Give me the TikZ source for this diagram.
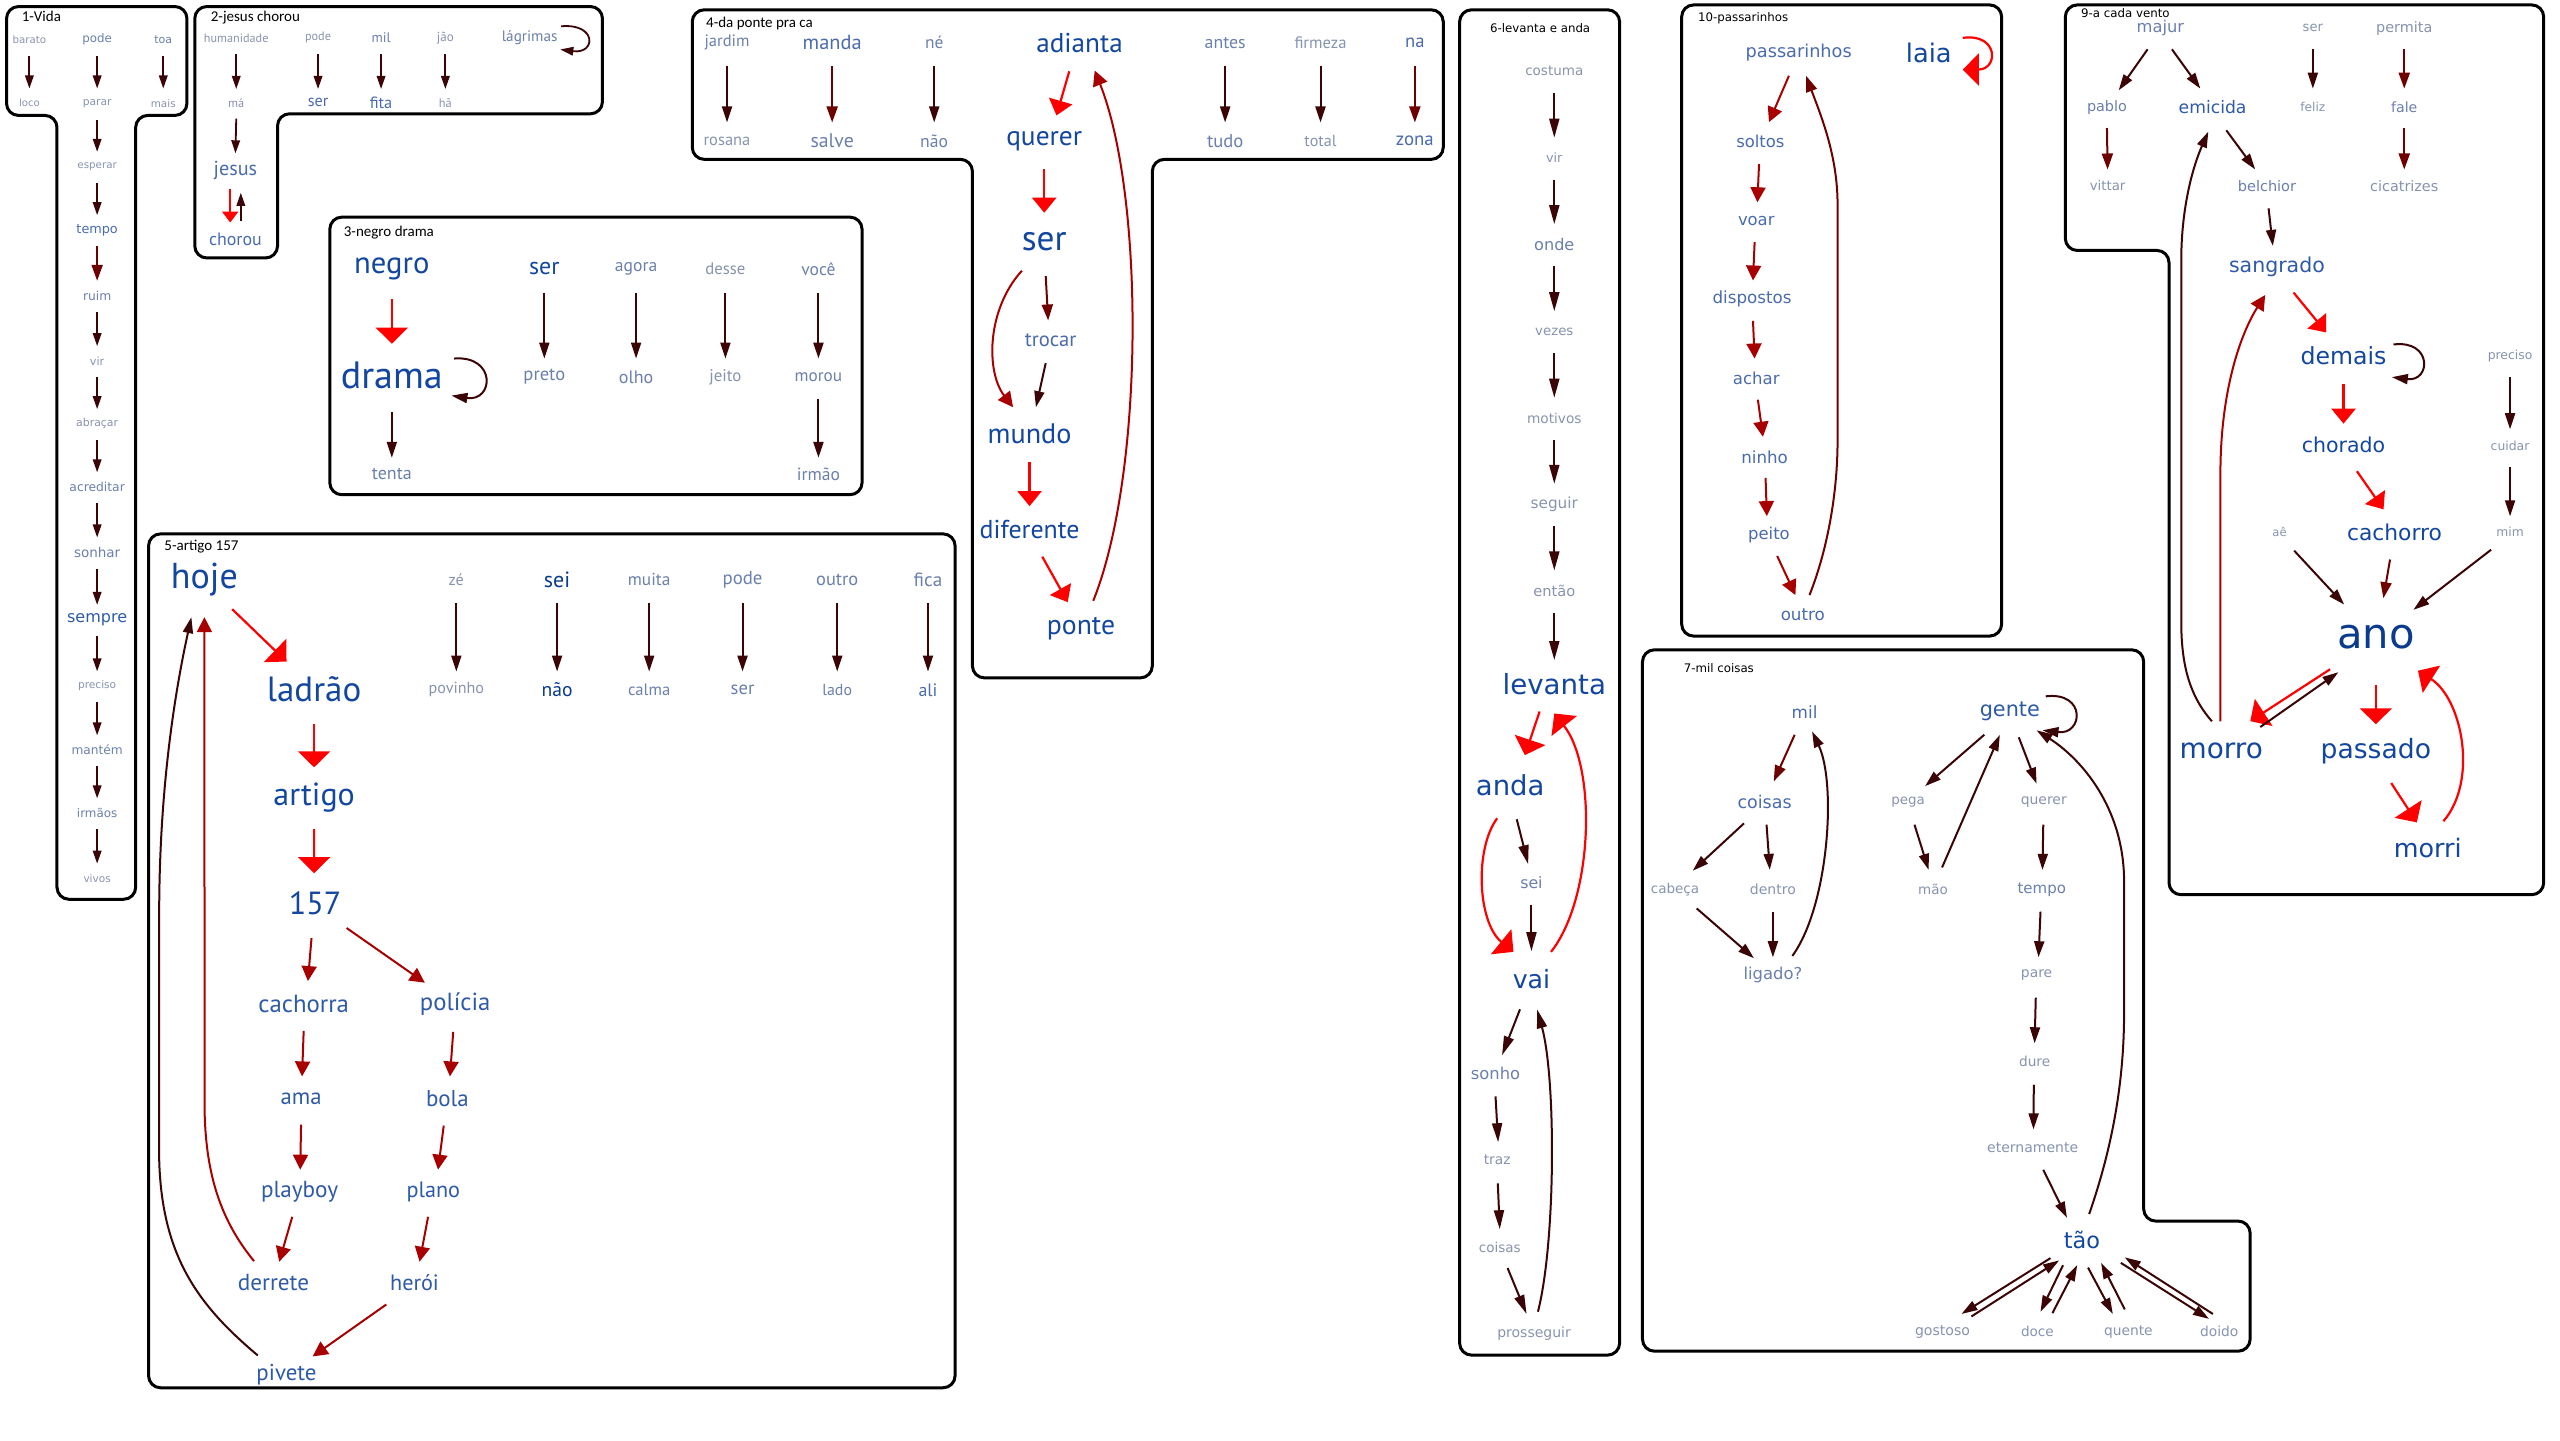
\documentclass[tikz,border=0pt]{standalone}
\usepackage{fontspec}
\setmainfont{DejaVu Sans}
\newfontfamily\vfont{DejaVu Sans}
\newfontfamily\tfont{PT Sans}
\newfontfamily\calfont{Carlito}
\usetikzlibrary{arrows.meta}
\definecolor{c1}{HTML}{8794B0}
\definecolor{c2}{HTML}{6B80AC}
\definecolor{c3}{HTML}{4A6BAE}
\definecolor{c4}{HTML}{2E5AA8}
\definecolor{c5}{HTML}{13479F}
\definecolor{c6}{HTML}{0B3B8E}
\definecolor{dkc}{HTML}{3B0505}
\definecolor{mdc}{HTML}{6E0000}
\definecolor{drc}{HTML}{A80000}
\definecolor{rdc}{HTML}{FF0000}
\tikzset{
 wv/.style n args={2}{font=\vfont\fontsize{#1}{#1}\selectfont,text=#2,inner sep=0pt},
 wt/.style n args={2}{font=\tfont\fontsize{#1}{#1}\selectfont,text=#2,inner sep=0pt},
 ttl/.style={font=\calfont\fontsize{15}{15}\selectfont,anchor=west,inner sep=0pt,text=black},
 ttlv/.style={font=\vfont\fontsize{11.8}{11.8}\selectfont,anchor=west,inner sep=0pt,text=black},
 outl/.style={draw=black,line width=3pt,rounded corners=12pt},
 dk/.style={draw=dkc,line width=2pt,-{Triangle[length=16pt,width=10pt]}},
 dkS/.style={draw=dkc,line width=1.8pt,-{Triangle[length=13pt,width=8.5pt]}},
 dkL/.style={draw=dkc,line width=2pt,-{Triangle[length=19pt,width=10pt]}},
 md/.style={draw=mdc,line width=2pt,-{Triangle[length=16pt,width=11pt]}},
 dr/.style={draw=drc,line width=2pt,-{Triangle[length=15pt,width=15pt]}},
 rd/.style={draw=rdc,line width=2.2pt,-{Triangle[length=16pt,width=32pt]}},
 rdm/.style={draw=rdc,line width=2.2pt,-{Triangle[length=15pt,width=24pt]}},
 rds/.style={draw=rdc,line width=2pt,-{Triangle[length=11pt,width=16pt]}},
}
\newcommand\myconn[5][dk]{\draw[#1] ([shift={(#3)}]#2.center) -- ([shift={(#5)}]#4.center);}
\begin{document}
\begin{tikzpicture}[x=1.6327pt,y=-1.6327pt]
\useasboundingbox (0,0) rectangle (1568,882);
\fill[white] (0,0) rectangle (1568,882);

% ---------- outlines ----------
\draw[outl] (4,4) -- (114.5,4) -- (114.5,70.7) -- (83.1,70.7) -- (83.1,550.8) -- (34.9,550.8) -- (34.9,70.7) -- (4,70.7) -- cycle;
\draw[outl] (119.3,4) -- (369,4) -- (369,69.7) -- (170,69.7) -- (170,158) -- (119.3,158) -- cycle;
\draw[outl] (202,133) rectangle (528,303);
\draw[outl] (424,6) -- (884,6) -- (884,97.6) -- (705.8,97.6) -- (705.8,415.2) -- (595.6,415.2) -- (595.6,97.6) -- (424,97.6) -- cycle;
\draw[outl] (91,327) rectangle (585,850);
\draw[outl] (894,6) rectangle (992,830);
\draw[outl] (1030,3) rectangle (1226,389.6);
\draw[outl] (1265,3) -- (1558,3) -- (1558,548) -- (1328.5,548) -- (1328.5,153.4) -- (1265,153.4) -- cycle;
\draw[outl] (1006,398) -- (1313,398) -- (1313,747.9) -- (1378.2,747.9) -- (1378.2,827.6) -- (1006,827.6) -- cycle;

% ---------- box 1 ----------
\node[ttl] at (13.2,10.1) {1-Vida};
\node[wv={10.2}{c1}] (a1barato) at (18,24.2) {barato};
\node[wv={11.8}{c2}] (a1pode) at (59.5,24.2) {pode};
\node[wv={11}{c2}] (a1toa) at (100,24.2) {toa};
\node[wv={10}{c1}] (a1loco) at (18,63.2) {loco};
\node[wv={10.7}{c1}] (a1parar) at (59.5,63.2) {parar};
\node[wv={10.4}{c1}] (a1mais) at (100,63.2) {mais};
\node[wv={10.3}{c1}] (a1esperar) at (59.5,102) {esperar};
\node[wv={12.8}{c3}] (a1tempo) at (59.5,140.8) {tempo};
\node[wv={12.3}{c2}] (a1ruim) at (59.5,181) {ruim};
\node[wv={11.2}{c1}] (a1vir) at (59.5,221) {vir};
\node[wv={10.9}{c1}] (a1abracar) at (59.5,259.6) {abraçar};
\node[wv={12.3}{c2}] (a1acreditar) at (59.5,298.3) {acreditar};
\node[wv={13.5}{c2}] (a1sonhar) at (59.5,338.2) {sonhar};
\node[wv={16}{c4}] (a1sempre) at (59.5,379.5) {sempre};
\node[wv={10.6}{c1}] (a1preciso) at (59.5,420.2) {preciso};
\node[wv={12.2}{c2}] (a1mantem) at (59.5,459.4) {mantém};
\node[wv={11.9}{c2}] (a1irmaos) at (59.5,498) {irmãos};
\node[wv={10.5}{c1}] (a1vivos) at (59.5,538) {vivos};
\myconn[dkS]{a1barato}{0,10}{a1loco}{0,-9}
\myconn[dkS]{a1pode}{0,10}{a1parar}{0,-9}
\myconn[dkS]{a1toa}{0,10}{a1mais}{0,-9}
\myconn[dkS]{a1parar}{0,10}{a1esperar}{0,-9}
\myconn[dkS]{a1esperar}{0,10}{a1tempo}{0,-9}
\myconn[md]{a1tempo}{0,10}{a1ruim}{0,-9}
\myconn[dkS]{a1ruim}{0,10}{a1vir}{0,-9}
\myconn[dkS]{a1vir}{0,10}{a1abracar}{0,-9}
\myconn[dkS]{a1abracar}{0,10}{a1acreditar}{0,-9}
\myconn[dkS]{a1acreditar}{0,10}{a1sonhar}{0,-9}
\myconn[dkS]{a1sonhar}{0,10}{a1sempre}{0,-9}
\myconn[dkS]{a1sempre}{0,10}{a1preciso}{0,-9}
\myconn[dkS]{a1preciso}{0,10}{a1mantem}{0,-9}
\myconn[dkS]{a1mantem}{0,10}{a1irmaos}{0,-9}
\myconn[dkS]{a1irmaos}{0,10}{a1vivos}{0,-9}

% ---------- box 2 ----------
\node[ttl] at (129,10.5) {2-jesus chorou};
\node[wt={12.2}{c1}] (b2hum) at (144.7,23.2) {humanidade};
\node[wt={12.2}{c1}] (b2pode) at (194.8,23.2) {pode};
\node[wt={13.9}{c2}] (b2mil) at (233.4,23.2) {mil};
\node[wt={13.1}{c1}] (b2jao) at (272.8,23.2) {jão};
\node[wt={15.2}{c2}] (b2lag) at (324.4,23.2) {lágrimas};
\node[wt={12.3}{c1}] (b2ma) at (144.7,63) {má};
\node[wt={16.2}{c3}] (b2ser) at (194.8,63) {ser};
\node[wt={16.3}{c3}] (b2fita) at (233.4,63) {fita};
\node[wt={12.4}{c1}] (b2ha) at (272.8,63) {hã};
\node[wt={20.2}{c3}] (b2jesus) at (144.2,104.4) {jesus};
\node[wt={17.9}{c3}] (b2chorou) at (144.2,146.8) {chorou};
\myconn[dkS]{b2hum}{0,10.1}{b2ma}{0,-8.5}
\myconn[dkS]{b2pode}{0,10.1}{b2ser}{0,-8.5}
\myconn[dkS]{b2mil}{0,10.1}{b2fita}{0,-8.5}
\myconn[dkS]{b2jao}{0,10.1}{b2ha}{0,-8.5}
\myconn[dkS]{b2ma}{0,9.7}{b2jesus}{0,-10.5}
\myconn[rds]{b2jesus}{-3.2,11.6}{b2chorou}{-3.2,-10.5}
\myconn[dkS]{b2chorou}{3.3,-11.5}{b2jesus}{3.3,13.7}
\draw[dkS] ([shift={(19.3,-7.1)}]b2lag.center) .. controls +(22,-2) and +(22,3) .. ([shift={(18.8,7.1)}]b2lag.center);

% ---------- box 3 ----------
\node[ttl] at (210.5,142.3) {3-negro drama};
\node[wt={30.6}{c5}] (c3negro) at (240,164.6) {negro};
\node[wt={38}{c5}] (c3drama) at (240,229.8) {drama};
\node[wt={18}{c2}] (c3tenta) at (240,290.5) {tenta};
\node[wt={23.9}{c5}] (c3ser) at (333.4,164.6) {ser};
\node[wt={17.6}{c2}] (c3agora) at (389.6,164.6) {agora};
\node[wt={16.7}{c1}] (c3desse) at (444.3,164.6) {desse};
\node[wt={17.5}{c2}] (c3voce) at (501.3,164.6) {você};
\node[wt={18.5}{c2}] (c3preto) at (333.4,230.8) {preto};
\node[wt={18}{c2}] (c3olho) at (389.6,230.8) {olho};
\node[wt={16.9}{c1}] (c3jeito) at (444.3,230.8) {jeito};
\node[wt={17.2}{c2}] (c3morou) at (501.3,230.8) {morou};
\node[wt={17.6}{c2}] (c3irmao) at (501.3,290.5) {irmão};
\myconn[rd]{c3negro}{0,18.6}{c3drama}{0,-19.3}
\myconn{c3drama}{0,22.6}{c3tenta}{0,-10.1}
\myconn{c3ser}{0,14.6}{c3preto}{0,-11.2}
\myconn{c3agora}{0,14.6}{c3olho}{0,-11.2}
\myconn{c3desse}{0,14.6}{c3jeito}{0,-11.2}
\myconn{c3voce}{0,14.6}{c3morou}{0,-11.2}
\myconn{c3morou}{0,13.5}{c3irmao}{0,-10.1}
\draw[dk] ([shift={(38.2,-10.2)}]c3drama.center) .. controls +(26,-2) and +(26,4) .. ([shift={(36.5,12.5)}]c3drama.center);

% ---------- box 4 ----------
\node[ttl] at (432.4,14.1) {4-da ponte pra ca};
\node[wt={16.5}{c2}] (d4jardim) at (445.3,26.2) {jardim};
\node[wt={20.4}{c3}] (d4manda) at (509.7,26.2) {manda};
\node[wt={17.4}{c2}] (d4ne) at (572.2,26.2) {né};
\node[wt={27.2}{c5}] (d4adianta) at (661.2,26.2) {adianta};
\node[wt={17.8}{c2}] (d4antes) at (750.4,26.2) {antes};
\node[wt={16.6}{c1}] (d4firmeza) at (808.8,26.2) {firmeza};
\node[wt={18.6}{c3}] (d4na) at (866.6,26.2) {na};
\node[wt={16.5}{c1}] (d4rosana) at (445.3,86.3) {rosana};
\node[wt={19.8}{c2}] (d4salve) at (509.7,86.3) {salve};
\node[wt={17.7}{c2}] (d4nao) at (572.2,86.3) {não};
\node[wt={27.4}{c5}] (d4querer) at (639.6,86.3) {querer};
\node[wt={18.6}{c2}] (d4tudo) at (750.4,86.3) {tudo};
\node[wt={16.1}{c1}] (d4total) at (808.8,86.3) {total};
\node[wt={18.8}{c3}] (d4zona) at (866.6,86.3) {zona};
\node[wt={35.3}{c5}] (d4ser) at (639.6,148.3) {ser};
\node[wt={20.6}{c3}] (d4trocar) at (643.5,208.2) {trocar};
\node[wt={28.2}{c5}] (d4mundo) at (630.6,265.6) {mundo};
\node[wt={25.9}{c5}] (d4diferente) at (630.6,324.3) {diferente};
\node[wt={27.7}{c5}] (d4ponte) at (662.1,385) {ponte};
\myconn{d4jardim}{0,14.3}{d4rosana}{0,-11.3}
\myconn[md]{d4manda}{0,14.3}{d4salve}{0,-11.3}
\myconn{d4ne}{0,14.3}{d4nao}{0,-11.3}
\myconn{d4antes}{0,14.3}{d4tudo}{0,-11.3}
\myconn{d4firmeza}{0,14.3}{d4total}{0,-11.3}
\myconn[md]{d4na}{0,14.3}{d4zona}{0,-11.3}
\myconn[rdm]{d4adianta}{-6.3,17.5}{d4querer}{7.5,-15.6}
\myconn[rdm]{d4querer}{0,17.5}{d4ser}{0,-18}
\myconn[md]{d4ser}{0.9,20.8}{d4trocar}{-1.5,-11.9}
\myconn{d4trocar}{-3,14.2}{d4mundo}{3.9,-16.2}
\myconn[rdm]{d4mundo}{0,17.4}{d4diferente}{0,-14.3}
\myconn[rdm]{d4diferente}{7.8,16.7}{d4ponte}{-8.1,-16.2}
\draw[dr] ([shift={(-13.7,17.5)}]d4ser.center) .. controls (604,190) and (604,228) .. ([shift={(-10.1,-16.2)}]d4mundo.center);
\draw[dr] ([shift={(7.5,-17)}]d4ponte.center) .. controls (701,290) and (701,120) .. ([shift={(9.3,17)}]d4adianta.center);

% ---------- box 5 ----------
\node[ttl] at (100.6,334.8) {5-artigo 157};
\node[wt={36}{c5}] (e5hoje) at (125.2,355.2) {hoje};
\node[wt={35}{c5}] (e5ladrao) at (192.4,422.1) {ladrão};
\node[wt={32}{c5}] (e5artigo) at (192.4,488.8) {artigo};
\node[wt={32}{c5}] (e5n) at (193,553) {157};
\node[wt={24.8}{c4}] (e5cachorra) at (186,615) {cachorra};
\node[wt={24.7}{c4}] (e5policia) at (278.8,615) {polícia};
\node[wt={22.7}{c4}] (e5ama) at (184.4,673) {ama};
\node[wt={22.9}{c4}] (e5bola) at (274,673) {bola};
\node[wt={23.2}{c4}] (e5playboy) at (183.5,729.8) {playboy};
\node[wt={22.2}{c4}] (e5plano) at (265.4,729.8) {plano};
\node[wt={23.2}{c4}] (e5derrete) at (167.5,785.7) {derrete};
\node[wt={22.2}{c4}] (e5heroi) at (253.9,785.7) {herói};
\node[wt={22.9}{c4}] (e5pivete) at (175.5,842) {pivete};
\node[wt={16.2}{c1}] (e5ze) at (279.5,355.2) {zé};
\node[wt={22}{c6}] (e5sei) at (341.2,355.2) {sei};
\node[wt={17.3}{c2}] (e5muita) at (397.6,355.2) {muita};
\node[wt={18.8}{c2}] (e5pode) at (454.8,355.2) {pode};
\node[wt={18.4}{c2}] (e5outro) at (512.8,355.2) {outro};
\node[wt={19.2}{c2}] (e5fica) at (568.4,355.2) {fica};
\node[wt={16.1}{c1}] (e5povinho) at (279.5,422.5) {povinho};
\node[wt={19.6}{c6}] (e5nao) at (341.2,422.5) {não};
\node[wt={16.6}{c2}] (e5calma) at (397.6,422.5) {calma};
\node[wt={18.6}{c2}] (e5ser) at (454.8,422.5) {ser};
\node[wt={15.9}{c2}] (e5lado) at (512.8,422.5) {lado};
\node[wt={17.9}{c3}] (e5ali) at (568.4,422.5) {ali};
\myconn[rd]{e5hoje}{17,17.9}{e5ladrao}{-16.9,-16.9}
\myconn[rd]{e5ladrao}{0,21.4}{e5artigo}{0,-18.8}
\myconn[rd]{e5artigo}{0,19}{e5n}{-0.6,-18.2}
\myconn[dr]{e5n}{-2.2,21.6}{e5cachorra}{2.6,-14.1}
\myconn[dr]{e5n}{19.3,15.4}{e5policia}{-18.6,-13.1}
\myconn[dr]{e5cachorra}{0,16.4}{e5ama}{0.6,-13.7}
\myconn[dr]{e5policia}{-1.2,17}{e5bola}{1.6,-13.7}
\myconn[dr]{e5ama}{0,15.8}{e5playboy}{0.4,-13.4}
\myconn[dr]{e5bola}{-2.2,16.4}{e5plano}{2.9,-13.4}
\myconn[dr]{e5playboy}{-4.5,15.5}{e5derrete}{3.5,-12.9}
\myconn[dr]{e5plano}{-3.2,15.5}{e5heroi}{3.1,-12.9}
\myconn[dr]{e5heroi}{-17.3,13.3}{e5pivete}{16,-11.2}
\myconn{e5ze}{0,14.2}{e5povinho}{0,-11.2}
\myconn{e5sei}{0,14.2}{e5nao}{0,-11.2}
\myconn{e5muita}{0,14.2}{e5calma}{0,-11.2}
\myconn{e5pode}{0,14.2}{e5ser}{0,-11.2}
\myconn{e5outro}{0,14.2}{e5lado}{0,-11.2}
\myconn{e5fica}{0,14.2}{e5ali}{0,-11.2}
\draw[dr] ([shift={(-11.9,-13.3)}]e5derrete.center) .. controls (133,745) and (126,715) .. (125.3,680) -- ([shift={(0,22.8)}]e5hoje.center);
\draw[dk] ([shift={(-17.6,-11.8)}]e5pivete.center) .. controls (122,800) and (99,770) .. (97.5,710) -- (97.5,560) .. controls (97.5,480) and (108,420) .. ([shift={(-8,22.8)}]e5hoje.center);

% ---------- box 6 ----------
\node[ttlv] at (912.6,17) {6-levanta e anda};
\node[wv={13.5}{c1}] (f6costuma) at (952,43.6) {costuma};
\node[wv={12.8}{c1}] (f6vir) at (952,96.7) {vir};
\node[wv={16.1}{c2}] (f6onde) at (952,149.7) {onde};
\node[wv={13.3}{c1}] (f6vezes) at (952,203) {vezes};
\node[wv={13.7}{c1}] (f6motivos) at (952,256) {motivos};
\node[wv={15.3}{c1}] (f6seguir) at (952,308.7) {seguir};
\node[wv={14.6}{c1}] (f6entao) at (952,361.8) {então};
\node[wv={27.7}{c5}] (f6levanta) at (952,419) {levanta};
\node[wv={27.5}{c5}] (f6anda) at (925,480.7) {anda};
\node[wv={15.8}{c2}] (f6sei) at (938,540.5) {sei};
\node[wv={25.2}{c5}] (f6vai) at (938,599.4) {vai};
\node[wv={16.3}{c2}] (f6sonho) at (916,657.5) {sonho};
\node[wv={13.8}{c1}] (f6traz) at (917,710.2) {traz};
\node[wv={13.5}{c1}] (f6coisas) at (918.6,764.1) {coisas};
\node[wv={14}{c1}] (f6prosseguir) at (939.6,816.6) {prosseguir};
\myconn[dkL]{f6costuma}{0,13.5}{f6vir}{0,-12.4}
\myconn[dkL]{f6vir}{0,13.5}{f6onde}{0,-12.4}
\myconn[dkL]{f6onde}{0,13.5}{f6vezes}{0,-12.4}
\myconn[dkL]{f6vezes}{0,13.5}{f6motivos}{0,-12.4}
\myconn[dkL]{f6motivos}{0,13.5}{f6seguir}{0,-12.4}
\myconn[dkL]{f6seguir}{0,13.5}{f6entao}{0,-12.4}
\myconn[dkL]{f6entao}{0,13.7}{f6levanta}{0,-14.7}
\myconn[rd]{f6levanta}{-9,16.8}{f6anda}{9,-18.2}
\myconn[dkL]{f6anda}{4,21.1}{f6sei}{-2,-11.2}
\myconn[dkL]{f6sei}{0,14}{f6vai}{0,-16.8}
\myconn[dkL]{f6vai}{-7,18.8}{f6sonho}{4,-11.2}
\myconn[dkL]{f6sonho}{0,14}{f6traz}{0.6,-10.6}
\myconn[dkL]{f6traz}{0.4,14.6}{f6coisas}{0,-11.2}
\myconn[dkL]{f6coisas}{4.8,12.6}{f6prosseguir}{-4.6,-11.8}
\draw[rd] ([shift={(-8,20.5)}]f6anda.center) .. controls (903,520) and (905,565) .. ([shift={(-11,-16.4)}]f6vai.center);
\draw[rd] ([shift={(12,-16.4)}]f6vai.center) .. controls (976,550) and (978,470) .. ([shift={(0,18)}]f6levanta.center);
\draw[dkL] ([shift={(2.4,-13.2)}]f6prosseguir.center) .. controls (953,760) and (953,660) .. ([shift={(3.4,18.8)}]f6vai.center);

% ---------- box 10 ----------
\node[ttlv] at (1040,11) {10-passarinhos};
\node[wv={17.7}{c3}] (j10pass) at (1101.7,32.5) {passarinhos};
\node[wv={25.7}{c5}] (j10laia) at (1181.4,32.5) {laia};
\node[wv={16.4}{c3}] (j10soltos) at (1078.2,86.9) {soltos};
\node[wv={16.4}{c3}] (j10voar) at (1075.7,135.2) {voar};
\node[wv={16.7}{c3}] (j10disp) at (1073.1,183.1) {dispostos};
\node[wv={16.5}{c3}] (j10achar) at (1075.7,231.5) {achar};
\node[wv={16.7}{c3}] (j10ninho) at (1080.8,280) {ninho};
\node[wv={16.4}{c3}] (j10peito) at (1083.5,327.9) {peito};
\node[wv={16.7}{c3}] (j10outro) at (1104.2,376.3) {outro};
\myconn[dr]{j10pass}{-6,13.9}{j10soltos}{5.3,-12.1}
\myconn[dr]{j10soltos}{-0.8,13.6}{j10voar}{0.7,-11.3}
\myconn[dr]{j10voar}{-1,13.1}{j10disp}{0.6,-11.3}
\myconn[dr]{j10disp}{0.6,13.4}{j10achar}{-1,-11.9}
\myconn[dr]{j10achar}{1,13.3}{j10ninho}{-1,-12.5}
\myconn[dr]{j10ninho}{0.6,12.7}{j10peito}{-1.3,-11.8}
\myconn[dr]{j10peito}{5,12.6}{j10outro}{-4.5,-11.8}
\draw[md] ([shift={(4.1,-11.8)}]j10outro.center) .. controls (1120,335) and (1125.5,300) .. (1125.5,270) -- (1125.5,125) .. controls (1125.5,95) and (1115,70) .. ([shift={(4.5,13.9)}]j10pass.center);
\draw[rd] ([shift={(20.8,-9.3)}]j10laia.center) .. controls +(22,-3) and +(22,0) .. ([shift={(20.8,10.1)}]j10laia.center);

% ---------- box 9 ----------
\node[ttlv] at (1274.6,8.3) {9-a cada vento};
\node[wv={16.3}{c2}] (i9majur) at (1323.2,17.2) {majur};
\node[wv={14.4}{c2}] (i9pablo) at (1290.5,65.6) {pablo};
\node[wv={13.3}{c1}] (i9vittar) at (1290.9,113.8) {vittar};
\node[wv={17.2}{c4}] (i9emicida) at (1355.2,65.6) {emicida};
\node[wv={14.5}{c2}] (i9belchior) at (1388.5,113.8) {belchior};
\node[wv={20.5}{c4}] (i9sangrado) at (1394.6,163.3) {sangrado};
\node[wv={23.6}{c5}] (i9demais) at (1435.4,217.8) {demais};
\node[wv={20.5}{c5}] (i9chorado) at (1435.4,272.6) {chorado};
\node[wv={21.8}{c5}] (i9cachorro) at (1466.6,326) {cachorro};
\node[wv={41.7}{c6}] (i9ano) at (1455.2,390.5) {ano};
\node[wv={27.9}{c5}] (i9morro) at (1360.5,460.2) {morro};
\node[wv={26.6}{c5}] (i9passado) at (1455.2,460.2) {passado};
\node[wv={25.4}{c5}] (i9morri) at (1487,519.6) {morri};
\node[wv={13.1}{c1}] (i9ser) at (1416.6,17.2) {ser};
\node[wv={12.2}{c1}] (i9feliz) at (1416.6,65.6) {feliz};
\node[wv={14.4}{c1}] (i9permita) at (1472.6,17.2) {permita};
\node[wv={14.1}{c2}] (i9fale) at (1472.6,65.6) {fale};
\node[wv={14.4}{c1}] (i9cicatrizes) at (1472.6,113.8) {cicatrizes};
\node[wv={12.4}{c1}] (i9preciso) at (1537.4,218.1) {preciso};
\node[wv={12.4}{c1}] (i9cuidar) at (1537.4,273) {cuidar};
\node[wv={12.3}{c1}] (i9mim) at (1537.4,326) {mim};
\node[wv={11.6}{c1}] (i9ae) at (1396.2,326) {aê};
\myconn{i9majur}{-7.8,13}{i9pablo}{7.2,-10.3}
\myconn{i9majur}{7.1,13}{i9emicida}{-7.5,-11.3}
\myconn[md]{i9pablo}{0,12.8}{i9vittar}{0,-10}
\myconn{i9emicida}{8.4,14.2}{i9belchior}{-7.2,-10}
\myconn{i9belchior}{1,13.8}{i9sangrado}{-2.5,-12.7}
\myconn[rdm]{i9sangrado}{10.2,15.9}{i9demais}{-10.6,-14.2}
\myconn[rdm]{i9demais}{0,17.7}{i9chorado}{0,-13.1}
\myconn[rdm]{i9chorado}{8.2,16}{i9cachorro}{-6.7,-14}
\myconn[md]{i9cachorro}{-2.7,16.7}{i9ano}{4.6,-24.1}
\myconn{i9ae}{9,11.3}{i9ano}{-19.4,-20.2}
\myconn{i9mim}{-11.6,10.7}{i9ano}{23,-17}
\myconn{i9ser}{0,13}{i9feliz}{0,-11.3}
\myconn[md]{i9permita}{0,13}{i9fale}{0,-11.3}
\myconn[md]{i9fale}{0,12.8}{i9cicatrizes}{0,-10}
\myconn{i9preciso}{0,13.1}{i9cuidar}{0,-10.1}
\myconn{i9cuidar}{0,13.1}{i9mim}{0,-9.8}
\myconn[rd]{i9ano}{-28,19.4}{i9morro}{17.8,-18.5}
\myconn{i9morro}{23.9,-14.9}{i9ano}{-22.9,21.2}
\myconn[rd]{i9ano}{0,29}{i9passado}{0,-16.6}
\myconn[rd]{i9passado}{9.4,19.4}{i9morri}{-6.7,-15.9}
\draw[rd] ([shift={(9.6,-16.6)}]i9morri.center) .. controls (1518,478) and (1508,428) .. ([shift={(25.8,20.3)}]i9ano.center);
\draw[dk] ([shift={(30.6,-6.8)}]i9demais.center) .. controls +(24,-3) and +(24,3) .. ([shift={(29.6,13.2)}]i9demais.center);
\draw[dk] ([shift={(-5.7,-18.4)}]i9morro.center) .. controls (1340,425) and (1336,405) .. (1336,380) -- (1336,160) .. controls (1336,125) and (1344,100) .. ([shift={(-2.6,15)}]i9emicida.center);
\draw[dr] ([shift={(-0.6,-18.4)}]i9morro.center) -- (1360,290) .. controls (1360,240) and (1372,205) .. ([shift={(-7.2,17.4)}]i9sangrado.center);

% ---------- box 7 ----------
\node[ttlv] at (1031.2,409.4) {7-mil coisas};
\node[wv={16.8}{c3}] (g7mil) at (1105.3,435.9) {mil};
\node[wv={17.5}{c3}] (g7coisas) at (1080.8,491.4) {coisas};
\node[wv={13.5}{c1}] (g7cabeca) at (1025.9,544.7) {cabeça};
\node[wv={14}{c1}] (g7dentro) at (1085.9,544.7) {dentro};
\node[wv={16.4}{c2}] (g7ligado) at (1085.9,597.4) {ligado?};
\node[wv={20.8}{c4}] (g7gente) at (1231,436) {gente};
\node[wv={13.4}{c1}] (g7pega) at (1168.7,491) {pega};
\node[wv={13.5}{c1}] (g7mao) at (1184,545) {mão};
\node[wv={13.9}{c1}] (g7querer) at (1251.8,491) {querer};
\node[wv={15}{c2}] (g7tempo) at (1250.6,544.7) {tempo};
\node[wv={13.9}{c1}] (g7pare) at (1247.4,597.4) {pare};
\node[wv={13.7}{c1}] (g7dure) at (1246.2,650) {dure};
\node[wv={14}{c1}] (g7eterna) at (1245,703) {eternamente};
\node[wv={22.4}{c5}] (g7tao) at (1275.2,759.3) {tão};
\node[wv={14.1}{c1}] (g7gostoso) at (1189.8,815.7) {gostoso};
\node[wv={13.6}{c1}] (g7doce) at (1247.9,815.7) {doce};
\node[wv={13.8}{c1}] (g7quente) at (1303.6,815.7) {quente};
\node[wv={13.8}{c1}] (g7doido) at (1359.3,815.7) {doido};
\myconn[md]{g7mil}{-6.1,14.2}{g7coisas}{5.6,-12.8}
\myconn{g7coisas}{-12.6,12.9}{g7cabeca}{10.9,-11.4}
\myconn{g7coisas}{1.2,13.7}{g7dentro}{-1.9,-11.9}
\myconn{g7cabeca}{13.3,11.7}{g7ligado}{-11.6,-10.5}
\myconn{g7dentro}{0,13.7}{g7ligado}{0,-11.1}
\myconn{g7gente}{-15.6,14}{g7pega}{10.4,-9.5}
\myconn{g7pega}{3.9,14.1}{g7mao}{-2.7,-12.2}
\myconn{g7mao}{5.5,-13.7}{g7gente}{-6.1,14.1}
\myconn{g7gente}{5.5,15.6}{g7querer}{-4.4,-11}
\myconn{g7querer}{-0.3,14.1}{g7tempo}{0.4,-11.9}
\myconn{g7tempo}{-0.8,13.7}{g7pare}{1.2,-11.1}
\myconn{g7pare}{-0.5,13.7}{g7dure}{0,-11}
\myconn{g7dure}{-0.5,14.4}{g7eterna}{0.5,-11.3}
\myconn{g7eterna}{6.5,13.5}{g7tao}{-9.2,-13.4}
\myconn{g7tao}{-19.3,11.3}{g7gostoso}{11.6,-10.9}
\myconn{g7gostoso}{17.7,-9.4}{g7tao}{-14,12.7}
\myconn{g7tao}{-11.6,15.6}{g7doce}{1.9,-12.3}
\myconn{g7doce}{9.2,-11.4}{g7tao}{-2.9,15.6}
\myconn{g7tao}{3.7,17.1}{g7quente}{-9.5,-10.9}
\myconn{g7quente}{-2.2,-13.7}{g7tao}{11.7,14.2}
\myconn{g7tao}{23.8,14.2}{g7doido}{-6.3,-7.9}
\myconn{g7doido}{-3.9,-10.9}{g7tao}{26.2,10.8}
\draw[dk] ([shift={(11.9,-11.9)}]g7ligado.center) .. controls (1120,555) and (1125,480) .. ([shift={(4.6,12.1)}]g7mil.center);
\draw[dk] ([shift={(22,-9.5)}]g7gente.center) .. controls +(25,-3) and +(25,3) .. ([shift={(20,11.3)}]g7gente.center);
\draw[dk] ([shift={(4.4,-15.7)}]g7tao.center) .. controls (1293,705) and (1301,665) .. (1301,620) -- (1301,540) .. controls (1301,495) and (1275,465) .. ([shift={(16.4,11.3)}]g7gente.center);
\end{tikzpicture}
\end{document}
